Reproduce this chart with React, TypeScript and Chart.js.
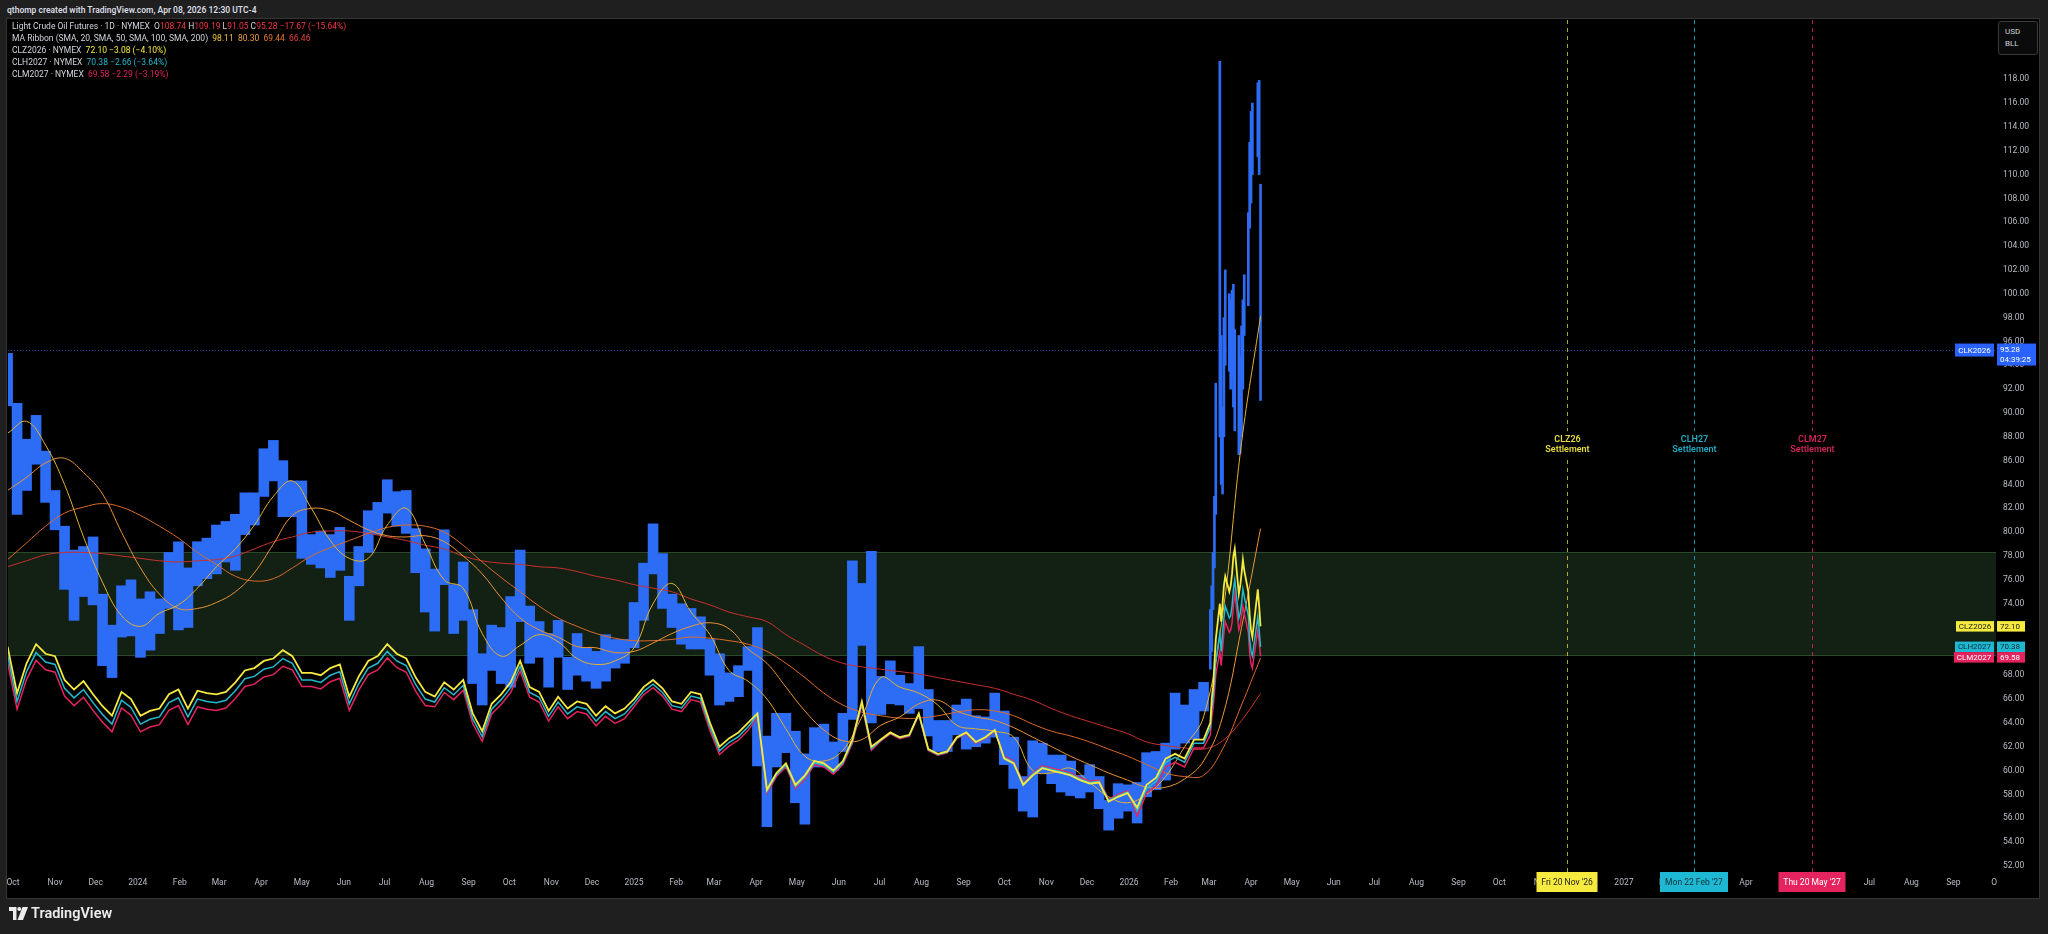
import React, { useEffect, useRef } from 'react';
import { Chart, registerables } from 'chart.js';

Chart.register(...registerables);

const FONT = 'Roboto, "Liberation Sans", Arial, sans-serif';

// ---------- time base (days since 2023-10-01) ----------
const EPOCH = Date.UTC(2023, 9, 1);
const toDay = (s: string) => {
  const [yy, mm, dd] = s.split('-').map(Number);
  return Math.round((Date.UTC(yy, mm - 1, dd) - EPOCH) / 86400000);
};

// ---------- weekly candles (mid-week dates, every 7 days) ----------
const firstWeekMid = '2023-09-27';
const weekLow = [
  90.6, 81.5, 83.5, 85.7, 82.5, 80.2, 75.2, 72.6, 74.6, 73.9,
  68.8, 67.8, 71.2, 71.3, 69.5, 70.1, 71.5, 73.6, 71.8, 72.0,
  75.5, 76.1, 76.5, 77.5, 76.8, 79.8, 80.6, 83.0, 84.3, 81.3,
  81.3, 77.8, 77.3, 77.0, 76.2, 76.8, 72.6, 75.5, 78.3, 79.8,
  81.6, 80.5, 79.9, 76.6, 73.3, 71.7, 75.6, 71.5, 72.6, 67.3,
  65.5, 68.4, 67.3, 67.0, 72.5, 69.0, 69.5, 67.0, 69.5, 66.8,
  68.0, 67.5, 66.9, 67.5, 68.6, 69.0, 70.3, 72.6, 76.5, 73.6,
  72.0, 70.6, 70.2, 70.2, 68.0, 65.5, 65.8, 66.2, 68.4, 60.4,
  55.3, 60.3, 61.5, 57.3, 55.5, 60.3, 60.3, 60.0, 61.6, 64.3,
  70.5, 64.0, 64.7, 65.6, 65.5, 64.8, 65.2, 62.9, 61.6, 61.6,
  63.0, 61.8, 62.0, 62.3, 62.8, 60.5, 58.5, 56.6, 56.1, 59.8,
  58.9, 58.2, 57.9, 57.7, 58.2, 56.8, 55.0, 56.0, 56.6, 55.6,
  57.8, 58.4, 59.2, 61.8, 62.3, 62.6, 65.0,
];
const weekHigh = [
  95.0, 90.8, 87.8, 89.8, 86.8, 83.5, 80.5, 78.5, 78.8, 79.6,
  74.8, 72.2, 75.5, 76.0, 74.4, 75.0, 74.4, 78.3, 79.2, 77.0,
  79.2, 79.5, 80.6, 80.9, 81.5, 83.3, 83.3, 87.0, 87.7, 86.0,
  84.3, 84.3, 79.8, 80.1, 79.8, 80.4, 76.3, 78.8, 81.8, 82.5,
  84.4, 83.4, 83.5, 80.3, 78.6, 76.9, 80.2, 75.6, 77.5, 73.5,
  69.8, 72.2, 72.0, 74.6, 78.5, 73.8, 72.5, 71.5, 72.6, 69.5,
  71.5, 70.3, 70.0, 71.4, 71.0, 71.0, 74.1, 77.4, 80.7, 78.2,
  74.8, 74.0, 73.6, 72.9, 71.0, 69.8, 68.2, 68.8, 70.4, 72.0,
  62.9, 64.8, 64.8, 63.3, 61.4, 63.6, 63.9, 62.4, 64.8, 77.6,
  75.7, 78.4, 67.9, 69.2, 68.0, 67.3, 70.4, 66.8, 64.2, 64.2,
  65.5, 66.0, 64.6, 64.5, 66.5, 65.0, 62.8, 59.5, 62.5, 62.3,
  61.3, 61.3, 60.8, 59.6, 60.5, 59.5, 57.5, 58.9, 58.8, 59.0,
  61.5, 61.6, 62.3, 66.5, 65.5, 66.8, 67.4,
];

// ---------- daily candles for the March/April 2026 spike ----------
const dailyDates = [
  '2026-03-02', '2026-03-03', '2026-03-04', '2026-03-05', '2026-03-06',
  '2026-03-09', '2026-03-10', '2026-03-11', '2026-03-12', '2026-03-13',
  '2026-03-16', '2026-03-17', '2026-03-18', '2026-03-19', '2026-03-20',
  '2026-03-23', '2026-03-24', '2026-03-25', '2026-03-26', '2026-03-27',
  '2026-03-30', '2026-03-31', '2026-04-01', '2026-04-02',
  '2026-04-06', '2026-04-07', '2026-04-08',
];
const dailyLow = [
  68.5, 70.0, 73.5, 77.0, 81.5,
  88.0, 84.0, 83.2, 88.0, 94.0,
  93.5, 92.0, 93.0, 90.5, 88.5,
  86.5, 86.6, 88.0, 92.0, 96.5,
  99.0, 105.5, 107.6, 110.0,
  111.5, 110.0, 91.05,
];
const dailyHigh = [
  73.5, 75.5, 78.3, 83.0, 92.5,
  119.5, 96.5, 90.5, 98.0, 102.0,
  100.0, 99.5, 100.3, 100.8, 97.0,
  96.5, 94.8, 97.3, 99.5, 101.6,
  106.8, 112.7, 115.3, 116.0,
  117.7, 117.9, 109.19,
];

// ---------- deferred futures contracts (weekly, then daily in Mar/Apr 2026) ----------
const clzWeekly = [
  70.4, 66.5, 69.0, 70.6, 69.8, 69.6, 67.6, 66.8, 67.5, 66.4,
  65.4, 64.6, 66.6, 66.0, 64.6, 65.0, 65.2, 66.4, 66.8, 65.2,
  66.7, 66.5, 66.4, 66.6, 67.4, 68.4, 68.6, 69.2, 69.4, 70.1,
  69.6, 68.2, 68.2, 68.0, 68.6, 68.9, 66.2, 67.9, 69.2, 69.6,
  70.6, 69.8, 69.4, 67.8, 66.6, 66.2, 67.4, 66.8, 67.6, 64.8,
  63.3, 65.6, 66.4, 67.4, 69.2, 67.0, 66.6, 65.0, 66.2, 65.2,
  65.8, 65.6, 64.6, 65.4, 64.8, 65.2, 66.0, 67.0, 67.6, 66.9,
  65.8, 65.6, 66.6, 66.4, 64.0, 62.0, 62.7, 63.2, 64.0, 64.8,
  58.4, 59.8, 60.6, 58.8, 59.6, 60.8, 60.6, 60.0, 60.8, 62.6,
  65.8, 62.0, 62.6, 63.2, 62.8, 63.0, 64.8, 61.8, 61.4, 61.6,
  62.8, 63.2, 62.4, 62.8, 63.4, 61.0, 60.6, 58.8, 59.6, 60.2,
  60.0, 59.8, 59.6, 59.2, 58.9, 59.0, 57.4, 57.8, 58.1, 56.9,
  58.8, 59.4, 61.0, 61.4, 61.0, 62.6, 62.6,
];
const clzDaily = [
  64.0, 66.0, 67.0, 69.0, 71.0, 74.0, 72.5, 74.0, 75.5, 76.3,
  75.0, 75.5, 76.5, 78.0, 78.6, 74.8, 75.5, 76.5, 77.7, 76.8,
  75.0, 73.0, 71.8, 71.2, 75.2, 73.8, 72.10,
];
const clhWeekly = [
  69.7, 65.8, 68.3, 69.9, 69.1, 68.9, 66.9, 66.1, 66.8, 65.7,
  64.7, 63.9, 65.9, 65.3, 63.9, 64.3, 64.5, 65.7, 66.1, 64.5,
  66.0, 65.8, 65.7, 65.9, 66.7, 67.7, 67.9, 68.5, 68.7, 69.4,
  69.0, 67.6, 67.6, 67.4, 68.0, 68.3, 65.6, 67.3, 68.6, 69.0,
  70.0, 69.2, 68.8, 67.2, 66.0, 65.75, 66.95, 66.35, 67.15, 64.35,
  62.85, 65.15, 65.95, 66.95, 68.75, 66.55, 66.15, 64.55, 65.75, 64.75,
  65.35, 65.15, 64.15, 64.95, 64.35, 64.75, 65.65, 66.65, 67.25, 66.55,
  65.45, 65.25, 66.25, 66.05, 63.65, 61.65, 62.35, 62.85, 63.65, 64.65,
  58.25, 59.65, 60.45, 58.65, 59.45, 60.65, 60.45, 59.85, 60.65, 62.45,
  65.65, 61.85, 62.55, 63.15, 62.75, 62.95, 64.75, 61.75, 61.35, 61.55,
  62.75, 63.15, 62.35, 62.75, 63.35, 61.1, 60.7, 58.9, 59.7, 60.3,
  60.1, 59.9, 59.7, 59.3, 59.0, 59.1, 57.5, 57.9, 58.2, 56.6,
  58.5, 59.1, 60.7, 61.1, 60.7, 62.3, 62.3,
];
const clhDaily = [
  63.6, 65.2, 66.0, 67.5, 69.2, 71.5, 70.0, 71.5, 72.8, 73.8,
  72.8, 73.0, 73.8, 75.2, 76.0, 72.8, 73.2, 74.0, 75.2, 74.6,
  73.0, 71.0, 70.0, 69.6, 72.9, 71.8, 70.38,
];
const clmWeekly = [
  69.05, 65.15, 67.65, 69.25, 68.45, 68.25, 66.25, 65.45, 66.15, 65.05,
  64.05, 63.25, 65.25, 64.65, 63.25, 63.65, 63.85, 65.05, 65.45, 63.85,
  65.35, 65.15, 65.05, 65.25, 66.05, 67.05, 67.25, 67.85, 68.05, 68.75,
  68.45, 67.05, 67.05, 66.85, 67.45, 67.75, 65.05, 66.75, 68.05, 68.45,
  69.45, 68.65, 68.25, 66.65, 65.45, 65.35, 66.55, 65.95, 66.75, 63.95,
  62.45, 64.75, 65.55, 66.55, 68.35, 66.15, 65.75, 64.15, 65.35, 64.35,
  64.95, 64.75, 63.75, 64.55, 63.95, 64.35, 65.35, 66.35, 66.95, 66.25,
  65.15, 64.95, 65.95, 65.75, 63.35, 61.35, 62.05, 62.55, 63.35, 64.5,
  58.1, 59.5, 60.3, 58.5, 59.3, 60.5, 60.3, 59.7, 60.5, 62.3,
  65.5, 61.7, 62.48, 63.08, 62.68, 62.88, 64.68, 61.68, 61.28, 61.48,
  62.68, 63.08, 62.28, 62.68, 63.28, 61.2, 60.8, 59.0, 59.8, 60.4,
  60.2, 60.0, 59.8, 59.4, 59.1, 59.2, 57.6, 58.0, 58.3, 56.2,
  58.1, 58.7, 60.3, 60.7, 60.3, 61.9, 61.9,
];
const clmDaily = [
  63.0, 64.4, 65.2, 66.5, 68.0, 70.0, 68.8, 70.2, 71.5, 72.5,
  71.6, 71.8, 72.4, 73.8, 74.9, 71.8, 72.2, 73.0, 73.8, 73.2,
  71.6, 69.8, 69.0, 68.6, 71.8, 70.8, 69.58,
];

// ---------- MA ribbon (samples every 14 days) ----------
const firstMaSample = '2023-09-27';
const sma20 = [
  88.3, 89.3, 87.3, 84.0, 79.6, 75.8, 73.0, 72.1, 73.2, 73.9,
  75.3, 77.1, 78.6, 80.6, 83.0, 84.3, 82.0, 79.3, 77.8, 77.8,
  80.6, 82.0, 79.0, 76.0, 75.3, 71.5, 69.6, 70.5, 71.4, 70.8,
  69.4, 68.9, 69.2, 70.3, 74.0, 75.7, 73.3, 71.4, 68.4, 67.5,
  66.0, 63.5, 61.2, 60.8, 61.7, 64.5, 67.8, 67.0, 66.5, 65.5,
  63.8, 63.5, 63.3, 62.8, 60.0, 59.8, 60.2, 59.0, 57.8, 57.3,
  58.0, 59.5, 62.0, 64.5, 73.0, 87.5, 98.11,
];
const sma50 = [
  83.5, 84.6, 85.8, 86.2, 85.0, 83.2, 80.0, 77.0, 74.8, 73.6,
  73.6, 74.1, 75.0, 76.6, 79.0, 81.4, 82.0, 81.8, 81.0, 80.2,
  79.7, 79.6, 79.7, 79.2, 78.0, 76.5, 74.5, 72.8, 71.8, 71.2,
  70.4, 70.3, 69.9, 70.0, 70.7, 71.5, 72.1, 72.4, 71.9, 70.2,
  69.0, 67.0, 65.0, 63.4, 62.5, 62.6, 63.8, 64.5, 65.6, 65.9,
  65.0, 64.5, 64.2, 63.6, 62.8, 62.0, 61.2, 60.5, 59.8, 59.2,
  58.6, 58.6, 59.3, 60.8, 64.5, 72.0, 80.30,
];
const sma100 = [
  77.7, 79.1, 80.5, 81.6, 82.1, 82.4, 82.1, 81.4, 80.5, 79.5,
  78.3, 77.3, 76.3, 75.9, 76.1, 77.0, 78.0, 78.7, 79.3, 79.9,
  80.4, 80.6, 80.5, 80.0, 78.9, 77.5, 76.2, 75.0, 73.8, 72.8,
  72.1, 71.5, 71.1, 70.9, 70.9, 71.0, 71.2, 71.1, 70.9, 70.6,
  70.0, 69.0, 67.8, 66.5, 65.5, 64.9, 64.6, 64.4, 64.4, 64.6,
  64.9, 65.1, 65.0, 64.6, 63.9, 63.3, 62.9, 62.4, 61.8, 61.2,
  60.5, 59.8, 59.5, 59.6, 61.8, 65.5, 69.44,
];
const sma200 = [
  77.1, 77.6, 78.1, 78.3, 78.3, 78.2, 78.0, 77.8, 77.6, 77.5,
  77.6, 77.7, 78.0, 78.6, 79.2, 79.6, 80.0, 80.1, 80.1, 79.9,
  79.6, 79.3, 78.9, 78.6, 78.0, 77.6, 77.4, 77.3, 77.1, 77.0,
  76.7, 76.3, 76.0, 75.6, 75.3, 75.0, 74.4, 73.9, 73.3, 72.9,
  72.5, 71.4, 70.5, 69.6, 69.0, 68.7, 68.5, 68.3, 68.1, 67.8,
  67.5, 67.2, 66.9, 66.4, 65.9, 65.2, 64.6, 64.1, 63.6, 63.1,
  62.4, 62.1, 61.9, 61.8, 62.5, 64.2, 66.46,
];

// ---------- axes, zone, settlements, labels ----------
const xTickLabels = [
  'Oct', 'Nov', 'Dec',
  '2024', 'Feb', 'Mar', 'Apr', 'May', 'Jun', 'Jul', 'Aug', 'Sep', 'Oct', 'Nov', 'Dec',
  '2025', 'Feb', 'Mar', 'Apr', 'May', 'Jun', 'Jul', 'Aug', 'Sep', 'Oct', 'Nov', 'Dec',
  '2026', 'Feb', 'Mar', 'Apr', 'May', 'Jun', 'Jul', 'Aug', 'Sep', 'Oct', 'Nov', 'Dec',
  '2027', 'Feb', 'Mar', 'Apr', 'May', 'Jun', 'Jul', 'Aug', 'Sep', 'O',
];
const yTickValues = [
  52, 54, 56, 58, 60, 62, 64, 66, 68, 70, 72, 74, 76, 78, 80, 82, 84,
  86, 88, 90, 92, 94, 96, 98, 100, 102, 104, 106, 108, 110, 112, 114, 116, 118,
];
const zoneLow = 69.62;
const zoneHigh = 78.35;
const lastPrice = 95.28;
const countdown = '04:39:25';
const settlementNames = ['CLZ26', 'CLH27', 'CLM27'];
const settlementDates = ['2026-11-20', '2027-02-22', '2027-05-20'];
const settlementTags = ["Fri 20 Nov '26", "Mon 22 Feb '27", "Thu 20 May '27"];
const settlementLabelPrice = 87.3;
const priceLabelNames = ['CLK2026', 'CLZ2026', 'CLH2027', 'CLM2027'];
const priceLabelValues = [95.28, 72.10, 70.38, 69.58];

// ---------- view ----------
const X_MIN = -3.7;
const X_MAX = 1462.4;
const Y_MIN = 51.49;
const Y_MAX = 122.97;

const C = {
  candle: '#2d6cf5',
  sma20: '#e4b232',
  sma50: '#ec9436',
  sma100: '#db6a2a',
  sma200: '#c8302e',
  clz: '#f6ea3f',
  clh: '#25b9d0',
  clm: '#e5235f',
  axisText: '#b8bcc6',
};
const SETTLE_LINE = ['rgba(232,222,60,0.75)', 'rgba(37,185,208,0.75)', 'rgba(229,35,95,0.8)'];
const SETTLE_TEXT = ['#e6dc3c', '#22aac2', '#d0245a'];
const TAG_BG = ['#f6ea3f', '#1fb8d2', '#e5235f'];
const TAG_FG = ['#1a1a1a', '#10303a', '#ffffff'];
const PRICE_BG = ['#2962ff', '#f6ea3f', '#1fb8d2', '#e5235f'];
const PRICE_FG = ['#ffffff', '#1a1a1a', '#0f2a33', '#ffffff'];

const overlayPlugin = {
  id: 'tvOverlay',
  beforeDatasetsDraw(chart: any) {
    const { ctx, chartArea: a, scales } = chart;
    const x = scales.x;
    const y = scales.y;
    ctx.save();
    const zt = Math.round(y.getPixelForValue(zoneHigh));
    const zb = Math.round(y.getPixelForValue(zoneLow));
    ctx.fillStyle = '#122113';
    ctx.fillRect(a.left, zt, a.right - a.left, zb - zt);
    ctx.strokeStyle = '#2b4a2a';
    ctx.lineWidth = 1;
    ctx.beginPath();
    ctx.moveTo(a.left, zt + 0.5);
    ctx.lineTo(a.right, zt + 0.5);
    ctx.moveTo(a.left, zb - 0.5);
    ctx.lineTo(a.right, zb - 0.5);
    ctx.stroke();

    const py = Math.round(y.getPixelForValue(lastPrice)) + 0.5;
    ctx.strokeStyle = 'rgba(60,110,255,0.6)';
    ctx.setLineDash([1, 2]);
    ctx.beginPath();
    ctx.moveTo(a.left, py);
    ctx.lineTo(a.right, py);
    ctx.stroke();

    ctx.setLineDash([4, 4]);
    settlementDates.forEach((d, i) => {
      const px = Math.round(x.getPixelForValue(toDay(d))) + 0.5;
      ctx.strokeStyle = SETTLE_LINE[i];
      ctx.beginPath();
      ctx.moveTo(px, a.top);
      ctx.lineTo(px, a.bottom);
      ctx.stroke();
    });
    ctx.restore();
  },
  afterDatasetsDraw(chart: any) {
    const { ctx, scales } = chart;
    const x = scales.x;
    const y = scales.y;
    ctx.save();
    ctx.font = `600 9px ${FONT}`;
    ctx.textAlign = 'center';
    ctx.textBaseline = 'middle';
    const ly = y.getPixelForValue(settlementLabelPrice);
    settlementNames.forEach((name, i) => {
      const px = Math.round(x.getPixelForValue(toDay(settlementDates[i]))) + 0.5;
      const w = ctx.measureText('Settlement').width + 4;
      ctx.fillStyle = '#000';
      ctx.fillRect(px - w / 2, ly - 14, w, 28);
      ctx.fillStyle = SETTLE_TEXT[i];
      ctx.fillText(name, px, ly - 5);
      ctx.fillText('Settlement', px, ly + 5);
    });
    ctx.restore();
  },
  afterDraw(chart: any) {
    const { ctx, chartArea: a, scales } = chart;
    const x = scales.x;
    const y = scales.y;
    ctx.save();
    ctx.font = `8.5px ${FONT}`;
    ctx.textBaseline = 'middle';
    ctx.textAlign = 'center';
    settlementTags.forEach((tag, i) => {
      const px = Math.round(x.getPixelForValue(toDay(settlementDates[i])));
      const w = Math.round(ctx.measureText(tag).width + 10);
      ctx.fillStyle = TAG_BG[i];
      ctx.fillRect(px - w / 2, a.bottom, w, 20);
      ctx.fillStyle = TAG_FG[i];
      ctx.fillText(tag, px, a.bottom + 10.5);
    });

    ctx.font = `8px ${FONT}`;
    let prevBottom = -Infinity;
    priceLabelNames.forEach((name, i) => {
      const isMain = i === 0;
      const h = isMain ? 13 : 10.5;
      let top = y.getPixelForValue(priceLabelValues[i]) - h / 2;
      if (!isMain && top < prevBottom) top = prevBottom;
      if (!isMain) prevBottom = top + h;
      const cy = top + h / 2;
      const nw = Math.round(ctx.measureText(name).width + 6);
      ctx.fillStyle = PRICE_BG[i];
      ctx.fillRect(a.right - 2 - nw, top, nw, h);
      ctx.fillStyle = PRICE_FG[i];
      ctx.textAlign = 'center';
      ctx.fillText(name, a.right - 2 - nw / 2, cy + 0.5);
      const vt = priceLabelValues[i].toFixed(2);
      ctx.textAlign = 'left';
      if (isMain) {
        const vw = Math.round(ctx.measureText(countdown).width + 8);
        ctx.fillStyle = PRICE_BG[i];
        ctx.fillRect(a.right + 1, top, vw, 22);
        ctx.fillStyle = PRICE_FG[i];
        ctx.fillText(vt, a.right + 4, top + 6);
        ctx.fillText(countdown, a.right + 4, top + 16.5);
      } else {
        const vw = Math.round(ctx.measureText(vt).width + 8);
        ctx.fillStyle = PRICE_BG[i];
        ctx.fillRect(a.right + 1, top, vw, h);
        ctx.fillStyle = PRICE_FG[i];
        ctx.fillText(vt, a.right + 4, cy + 0.5);
      }
    });
    ctx.restore();
  },
};

export default function App() {
  const canvasRef = useRef<HTMLCanvasElement | null>(null);

  useEffect(() => {
    const canvas = canvasRef.current;
    if (!canvas) return;
    const w0 = toDay(firstWeekMid);
    const weeklyDays = weekLow.map((_, i) => w0 + 7 * i);
    const dailyDays = dailyDates.map(toDay);
    const futDays = [...weeklyDays, ...dailyDays];
    const m0 = toDay(firstMaSample);
    const maDays = sma20.map((_, i) => m0 + 14 * i);
    const xTickDays = xTickLabels.map((_, i) =>
      Math.round((Date.UTC(2023, 9 + i, 1) - EPOCH) / 86400000)
    );

    const pts = (days: number[], vals: number[]) => vals.map((v, i) => ({ x: days[i], y: v }));
    const lineDs = (label: string, data: any[], color: string, width: number, order: number, tension: number) => ({
      type: 'line' as const,
      label,
      data,
      borderColor: color,
      borderWidth: width,
      pointRadius: 0,
      tension,
      fill: false,
      order,
    });

    const chart = new Chart(canvas, {
      type: 'bar',
      data: {
        datasets: [
          lineDs('CLZ2026', pts(futDays, [...clzWeekly, ...clzDaily]), C.clz, 1.8, 1, 0),
          lineDs('CLH2027', pts(futDays, [...clhWeekly, ...clhDaily]), C.clh, 1.5, 2, 0),
          lineDs('CLM2027', pts(futDays, [...clmWeekly, ...clmDaily]), C.clm, 1.5, 3, 0),
          lineDs('SMA20', pts(maDays, sma20), C.sma20, 1, 4, 0.4),
          lineDs('SMA50', pts(maDays, sma50), C.sma50, 1, 5, 0.4),
          lineDs('SMA100', pts(maDays, sma100), C.sma100, 1, 6, 0.4),
          lineDs('SMA200', pts(maDays, sma200), C.sma200, 1, 7, 0.4),
          {
            type: 'bar' as const,
            label: 'CL1! weekly',
            data: weeklyDays.map((d, i) => ({ x: d, y: [weekLow[i], weekHigh[i]] })),
            backgroundColor: C.candle,
            borderWidth: 0,
            barThickness: 10,
            grouped: false,
            order: 9,
          },
          {
            type: 'bar' as const,
            label: 'CL1! daily',
            data: dailyDays.map((d, i) => ({ x: d, y: [dailyLow[i], dailyHigh[i]] })),
            backgroundColor: C.candle,
            borderWidth: 0,
            barThickness: 2,
            grouped: false,
            order: 8,
          },
        ] as any,
      },
      options: {
        animation: false,
        responsive: false,
        maintainAspectRatio: false,
        devicePixelRatio: 1,
        events: [],
        layout: { padding: { left: 8, right: 9, top: 20, bottom: 36 } },
        plugins: { legend: { display: false }, tooltip: { enabled: false } },
        scales: {
          x: {
            type: 'linear',
            min: X_MIN,
            max: X_MAX,
            offset: false,
            grid: { display: false, drawTicks: false },
            border: { display: false },
            afterBuildTicks: (s: any) => {
              s.ticks = xTickDays.map((v) => ({ value: v }));
            },
            afterFit: (s: any) => {
              s.height = 26;
            },
            ticks: {
              autoSkip: false,
              maxRotation: 0,
              minRotation: 0,
              padding: 6,
              color: C.axisText,
              font: { family: FONT, size: 8.5 },
              callback: (_v: any, i: number) => xTickLabels[i],
            },
          },
          y: {
            type: 'linear',
            position: 'right',
            min: Y_MIN,
            max: Y_MAX,
            grid: { display: false, drawTicks: false },
            border: { display: false },
            afterBuildTicks: (s: any) => {
              s.ticks = yTickValues.map((v) => ({ value: v }));
            },
            afterFit: (s: any) => {
              s.width = 43;
            },
            ticks: {
              padding: 7,
              color: C.axisText,
              font: { family: FONT, size: 8.5 },
              callback: (v: any) => Number(v).toFixed(2),
            },
          },
        },
      } as any,
      plugins: [overlayPlugin],
    });
    return () => chart.destroy();
  }, []);

  const red = { color: '#f23645' };
  return (
    <div
      style={{
        position: 'fixed',
        left: 0,
        top: 0,
        width: 2048,
        height: 934,
        background: '#1f1f1f',
        overflow: 'hidden',
        fontFamily: FONT,
      }}
    >
      <div
        style={{
          position: 'absolute',
          left: 7,
          top: 4,
          fontSize: 8.5,
          fontWeight: 600,
          color: '#d8dbe2',
          lineHeight: '12px',
          whiteSpace: 'nowrap',
        }}
      >
        qthomp created with TradingView.com, Apr 08, 2026 12:30 UTC-4
      </div>
      <div
        style={{
          position: 'absolute',
          left: 6,
          top: 18,
          width: 2034,
          height: 881,
          boxSizing: 'border-box',
          background: '#000',
          border: '1px solid #353535',
        }}
      />
      <canvas
        ref={canvasRef}
        width={2048}
        height={934}
        style={{ position: 'absolute', left: 0, top: 0, width: 2048, height: 934 }}
      />
      <div
        style={{
          position: 'absolute',
          left: 12,
          top: 20,
          fontSize: 8.5,
          lineHeight: '12px',
          color: '#d1d4dc',
          whiteSpace: 'nowrap',
        }}
      >
        <div>
          Light Crude Oil Futures · 1D · NYMEX&nbsp;&nbsp;O<span style={red}>108.74</span> H
          <span style={red}>109.19</span> L<span style={red}>91.05</span> C<span style={red}>95.28</span>{' '}
          <span style={red}>−17.67 (−15.64%)</span>
        </div>
        <div>
          MA Ribbon (SMA, 20, SMA, 50, SMA, 100, SMA, 200)&nbsp;&nbsp;
          <span style={{ color: '#f2c744' }}>98.11</span>&nbsp;&nbsp;
          <span style={{ color: '#f0a040' }}>80.30</span>&nbsp;&nbsp;
          <span style={{ color: '#e8772f' }}>69.44</span>&nbsp;&nbsp;
          <span style={{ color: '#e0403c' }}>66.46</span>
        </div>
        <div>
          CLZ2026 · NYMEX&nbsp;&nbsp;<span style={{ color: C.clz }}>72.10 −3.08 (−4.10%)</span>
        </div>
        <div>
          CLH2027 · NYMEX&nbsp;&nbsp;<span style={{ color: C.clh }}>70.38 −2.66 (−3.64%)</span>
        </div>
        <div>
          CLM2027 · NYMEX&nbsp;&nbsp;<span style={{ color: C.clm }}>69.58 −2.29 (−3.19%)</span>
        </div>
      </div>
      <div
        style={{
          position: 'absolute',
          left: 1998,
          top: 21,
          width: 40,
          height: 34,
          boxSizing: 'border-box',
          border: '1px solid #3a3a3a',
          borderRadius: 3,
          background: '#0b0b0b',
          color: '#d1d4dc',
          fontSize: 8,
          lineHeight: '12px',
          padding: '4px 0 0 6px',
        }}
      >
        <div>USD</div>
        <div>BLL</div>
      </div>
      <div style={{ position: 'absolute', left: 9, top: 906, display: 'flex', alignItems: 'center' }}>
        <svg width="19" height="13" viewBox="0 0 38 26">
          <path d="M0 0 H15 V26 H8 V8 H0 Z" fill="#ececec" />
          <circle cx="20.5" cy="4" r="4" fill="#ececec" />
          <path d="M27 0 H38 L28 26 H17 Z" fill="#ececec" />
        </svg>
        <span style={{ marginLeft: 3, fontSize: 14.5, fontWeight: 600, color: '#ececec', lineHeight: '15px' }}>
          TradingView
        </span>
      </div>
    </div>
  );
}
